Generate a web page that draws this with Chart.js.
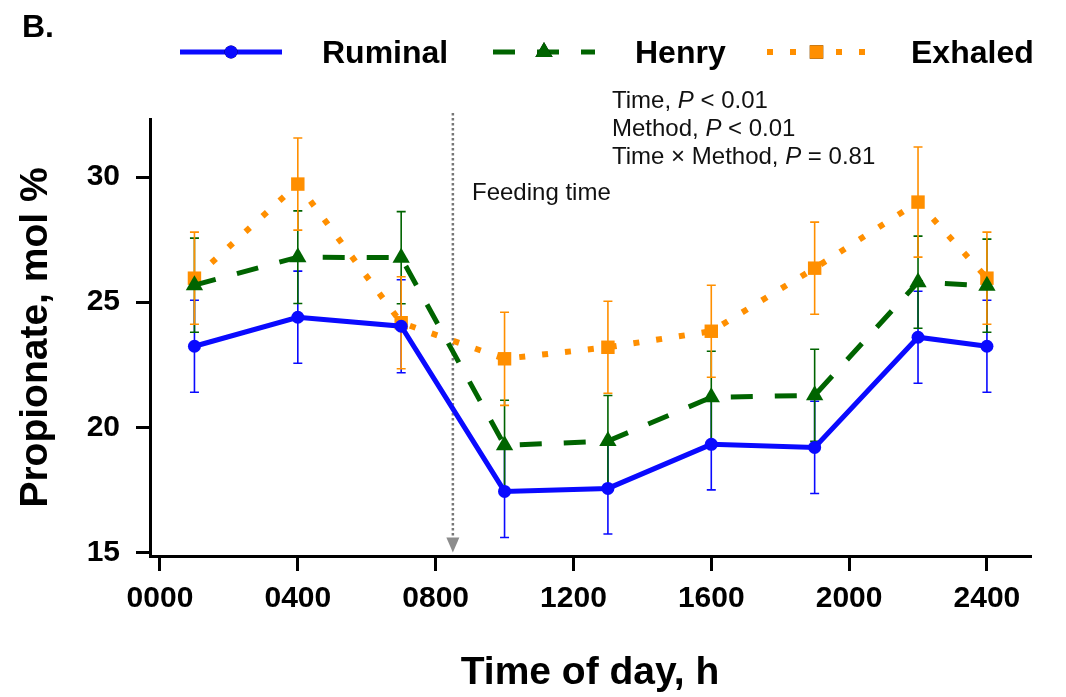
<!DOCTYPE html>
<html>
<head>
<meta charset="utf-8">
<script src="https://cdn.jsdelivr.net/npm/chart.js@4"></script>
<style>
  body { margin: 0; background: #fff; }
  #wrap { width: 1066px; height: 697px; position: relative; }
</style>
</head>
<body>
<div id="wrap"><canvas id="propChart"></canvas></div>
<script>
// sampling hours (0100 ... 2400)
const hours = [1, 4, 7, 10, 13, 16, 19, 22, 24];

const ruminal   = [23.24, 24.40, 24.04, 17.44, 17.56, 19.32, 19.20, 23.60, 23.24];
const ruminalSE = [1.84, 1.84, 1.86, 1.84, 1.82, 1.82, 1.84, 1.84, 1.84];

const henry   = [25.68, 26.80, 26.78, 19.28, 19.45, 21.20, 21.28, 25.80, 25.66];
const henrySE = [1.88, 1.85, 1.84, 1.80, 1.82, 1.84, 1.84, 1.84, 1.86];

const exhaled   = [25.96, 29.72, 24.18, 22.74, 23.20, 23.84, 26.36, 29.00, 25.96];
const exhaledSE = [1.84, 1.84, 1.84, 1.86, 1.84, 1.84, 1.84, 2.20, 1.84];

const xTickValues = [0, 4, 8, 12, 16, 20, 24];
const xTickLabels = ["0000", "0400", "0800", "1200", "1600", "2000", "2400"];
const yTickValues = [15, 20, 25, 30];

const feedingHour = 8.5;

const BLUE = "#0a0aff";
const GREEN = "#006400";
const ORANGE = "#ff8f00";
const FONT = "'Liberation Sans', Arial, sans-serif";

function pts(vals) {
  return vals.map((v, i) => ({ x: hours[i], y: v }));
}

// error bars, drawn under the lines
const errorBars = {
  id: "errorBars",
  beforeDatasetsDraw(chart) {
    const ctx = chart.ctx;
    const xs = chart.scales.x, ys = chart.scales.y;
    chart.data.datasets.forEach((ds) => {
      if (!ds.errors) return;
      ctx.save();
      ctx.strokeStyle = ds.borderColor;
      ctx.lineWidth = 1.6;
      ctx.setLineDash([]);
      ds.data.forEach((p, i) => {
        const x = xs.getPixelForValue(p.x);
        const yTop = ys.getPixelForValue(p.y + ds.errors[i]);
        const yBot = ys.getPixelForValue(p.y - ds.errors[i]);
        ctx.beginPath();
        ctx.moveTo(x, yTop); ctx.lineTo(x, yBot);
        ctx.moveTo(x - 4.5, yTop); ctx.lineTo(x + 4.5, yTop);
        ctx.moveTo(x - 4.5, yBot); ctx.lineTo(x + 4.5, yBot);
        ctx.stroke();
      });
      ctx.restore();
    });
  }
};

// feeding time marker
const feedingLine = {
  id: "feedingLine",
  beforeDatasetsDraw(chart) {
    const ctx = chart.ctx;
    const x = chart.scales.x.getPixelForValue(feedingHour);
    const yTip = chart.scales.y.getPixelForValue(15.0);
    ctx.save();
    ctx.strokeStyle = "#777";
    ctx.lineWidth = 2.5;
    ctx.setLineDash([2.5, 2.5]);
    ctx.beginPath();
    ctx.moveTo(x, chart.chartArea.top - 6);
    ctx.lineTo(x, yTip - 14);
    ctx.stroke();
    ctx.setLineDash([]);
    ctx.fillStyle = "#8c8c8c";
    ctx.beginPath();
    ctx.moveTo(x - 6.5, yTip - 15);
    ctx.lineTo(x + 6.5, yTip - 15);
    ctx.lineTo(x, yTip);
    ctx.closePath();
    ctx.fill();
    ctx.restore();
  }
};

// texts + legend
const extras = {
  id: "extras",
  afterDraw(chart) {
    const ctx = chart.ctx;
    ctx.save();
    ctx.fillStyle = "#000";
    ctx.textBaseline = "alphabetic";
    ctx.textAlign = "left";

    ctx.font = "bold 32px " + FONT;
    ctx.fillText("B.", 22, 37);

    // legend
    const items = [
      { ds: chart.data.datasets[0], x0: 180, x1: 282, tx: 322 },
      { ds: chart.data.datasets[1], x0: 493, x1: 595, tx: 635 },
      { ds: chart.data.datasets[2], x0: 767, x1: 866, tx: 911 }
    ];
    const ly = 52;
    items.forEach((it) => {
      const ds = it.ds;
      ctx.save();
      ctx.strokeStyle = ds.borderColor;
      ctx.lineWidth = ds.borderWidth;
      ctx.setLineDash(ds.borderDash || []);
      ctx.beginPath();
      ctx.moveTo(it.x0, ly);
      ctx.lineTo(it.x1, ly);
      ctx.stroke();
      ctx.restore();
      Chart.helpers.drawPoint(ctx, {
        pointStyle: ds.pointStyle,
        radius: ds.pointRadius,
        borderWidth: 0,
        rotation: 0
      }, (it.x0 + it.x1) / 2, ly);
      ctx.fillStyle = ds.borderColor;
      ctx.fill();
      ctx.fillStyle = "#000";
      ctx.font = "bold 32px " + FONT;
      ctx.fillText(ds.label, it.tx, 63);
    });

    // feeding label
    ctx.font = "24px " + FONT;
    ctx.fillStyle = "#111";
    ctx.fillText("Feeding time", 472, 200);

    // statistics
    const lines = [
      ["Time, ", "P", " < 0.01"],
      ["Method, ", "P", " < 0.01"],
      ["Time \u00d7 Method, ", "P", " = 0.81"]
    ];
    lines.forEach((parts, k) => {
      let x = 612;
      const y = 108 + k * 28;
      parts.forEach((s, j) => {
        ctx.font = (j === 1 ? "italic " : "") + "24px " + FONT;
        ctx.fillText(s, x, y);
        x += ctx.measureText(s).width;
      });
    });
    ctx.restore();
  }
};

const ctx = document.getElementById("propChart").getContext("2d");
new Chart(ctx, {
  type: "line",
  data: {
    datasets: [
      {
        label: "Ruminal",
        data: pts(ruminal),
        errors: ruminalSE,
        borderColor: BLUE,
        backgroundColor: BLUE,
        borderWidth: 5,
        pointStyle: "circle",
        pointRadius: 6.5,
        pointBorderWidth: 0,
        tension: 0
      },
      {
        label: "Henry",
        data: pts(henry),
        errors: henrySE,
        borderColor: GREEN,
        backgroundColor: GREEN,
        borderWidth: 5,
        borderDash: [22, 22],
        pointStyle: "triangle",
        pointRadius: 10,
        pointBorderWidth: 0,
        tension: 0
      },
      {
        label: "Exhaled",
        data: pts(exhaled),
        errors: exhaledSE,
        borderColor: ORANGE,
        backgroundColor: ORANGE,
        borderWidth: 6,
        borderDash: [6, 17],
        borderCapStyle: "butt",
        pointStyle: "rect",
        pointRadius: 9.5,
        pointBorderWidth: 0,
        tension: 0
      }
    ]
  },
  options: {
    responsive: true,
    maintainAspectRatio: false,
    animation: false,
    layout: { padding: { top: 119, right: 36, left: 0, bottom: 0 } },
    plugins: {
      legend: { display: false },
      tooltip: { enabled: false }
    },
    scales: {
      x: {
        type: "linear",
        min: -0.29,
        max: 25.25,
        afterBuildTicks: (s) => { s.ticks = xTickValues.map((v) => ({ value: v })); },
        afterFit: (s) => { s.height = 141; },
        ticks: {
          color: "#000",
          padding: 10,
          maxRotation: 0,
          autoSkip: false,
          font: { family: FONT, size: 30, weight: "bold" },
          callback: (v) => xTickLabels[xTickValues.indexOf(v)]
        },
        grid: { drawOnChartArea: false, drawTicks: true, tickLength: 15, color: "#000", lineWidth: 3 },
        border: { display: true, color: "#000", width: 3 },
        title: {
          display: true,
          text: "Time of day, h",
          color: "#000",
          padding: { top: 0, bottom: 0 },
          font: { family: FONT, size: 39, weight: "bold" }
        }
      },
      y: {
        min: 14.86,
        max: 32.32,
        afterBuildTicks: (s) => { s.ticks = yTickValues.map((v) => ({ value: v })); },
        afterFit: (s) => { s.width = 150; },
        ticks: {
          color: "#000",
          padding: 16,
          font: { family: FONT, size: 30, weight: "bold" }
        },
        grid: { drawOnChartArea: false, drawTicks: true, tickLength: 14, color: "#000", lineWidth: 3 },
        border: { display: true, color: "#000", width: 3 },
        title: {
          display: true,
          text: "Propionate, mol %",
          color: "#000",
          padding: { top: 13, bottom: 0 },
          font: { family: FONT, size: 39, weight: "bold" }
        }
      }
    }
  },
  plugins: [errorBars, feedingLine, extras]
});
</script>
</body>
</html>
